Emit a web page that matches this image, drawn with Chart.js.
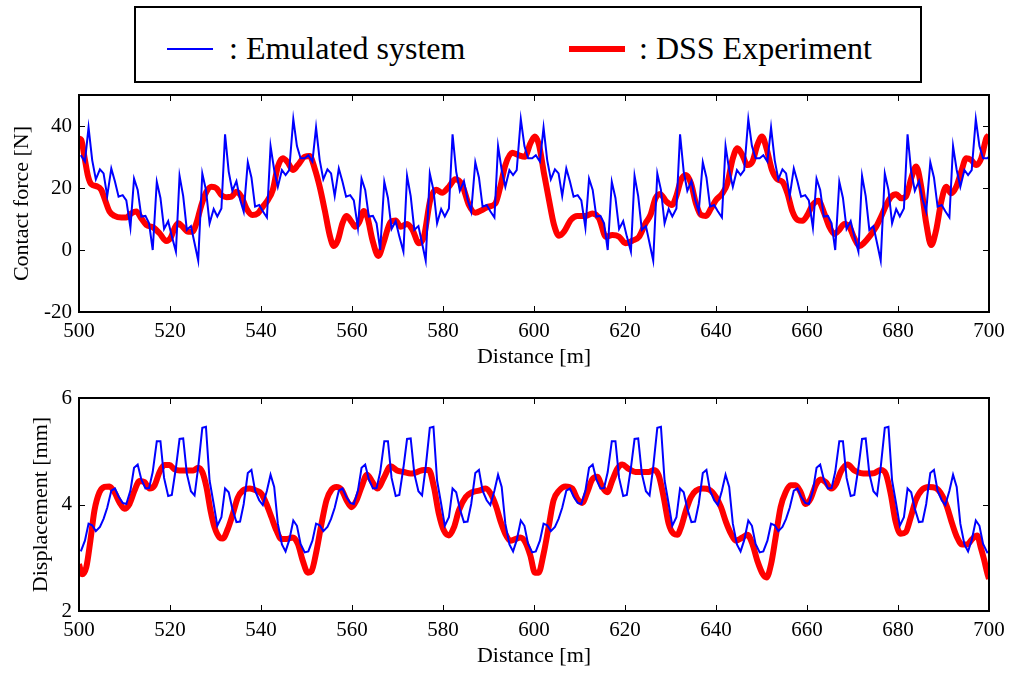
<!DOCTYPE html>
<html>
<head>
<meta charset="utf-8">
<script src="https://cdn.jsdelivr.net/npm/chart.js@4.4.1/dist/chart.umd.min.js"></script>
<style>
  body { margin: 0; background: #fff; width: 1013px; height: 673px; overflow: hidden; position: relative; font-family: "Liberation Serif", serif; }
  #legend { position: absolute; left: 134px; top: 6px; width: 784px; height: 73px; border: 2px solid #000; }
  .swatch { position: absolute; }
  .ltext { position: absolute; font-size: 32px; line-height: 32px; white-space: nowrap; color: #000; }
  canvas { position: absolute; left: 0; }
</style>
</head>
<body>
<div id="legend">
  <div class="swatch" style="left:31px;top:40px;width:46px;height:2px;background:#0000ff"></div>
  <div class="ltext" style="left:93px;top:24px">: Emulated system</div>
  <div class="swatch" style="left:433px;top:38px;width:56px;height:6px;background:#ff0000"></div>
  <div class="ltext" style="left:503px;top:24px">: DSS Experiment</div>
</div>
<canvas id="forceChart" width="1013" height="290" style="top:85px"></canvas>
<canvas id="dispChart" width="1013" height="288" style="top:385px"></canvas>
<script>
// axis ticks
const xTicks = [500, 520, 540, 560, 580, 600, 620, 640, 660, 680, 700];
const forceTicks = [-20, 0, 20, 40];
const dispTicks = [2, 4, 6];

// Emulated system: sample positions [m]
const blueDist = [
  500.4,501.3,502.1,502.9,503.7,504.6,505.4,506.2,507.1,507.9,508.7,509.6,
  510.4,511.3,512.1,512.9,513.7,514.6,515.4,516.2,517.1,517.9,518.7,519.6,
  520.4,521.3,522.1,522.9,523.7,524.6,525.4,526.2,527.1,527.9,528.7,529.6,
  530.4,531.3,532.1,532.9,533.7,534.6,535.4,536.2,537.1,537.9,538.7,539.6,
  540.4,541.3,542.1,542.9,543.7,544.6,545.4,546.2,547.1,547.9,548.7,549.6,
  550.4,551.3,552.1,552.9,553.7,554.6,555.4,556.2,557.1,557.9,558.7,559.6,
  560.4,561.3,562.1,562.9,563.7,564.6,565.4,566.2,567.1,567.9,568.7,569.6,
  570.4,571.3,572.1,572.9,573.7,574.6,575.4,576.2,577.1,577.9,578.7,579.6,
  580.4,581.3,582.1,582.9,583.7,584.6,585.4,586.2,587.1,587.9,588.7,589.6,
  590.4,591.3,592.1,592.9,593.7,594.6,595.4,596.2,597.1,597.9,598.7,599.6,
  600.4,601.3,602.1,602.9,603.7,604.6,605.4,606.2,607.1,607.9,608.7,609.6,
  610.4,611.3,612.1,612.9,613.7,614.6,615.4,616.2,617.1,617.9,618.7,619.6,
  620.4,621.3,622.1,622.9,623.7,624.6,625.4,626.2,627.1,627.9,628.7,629.6,
  630.4,631.3,632.1,632.9,633.7,634.6,635.4,636.2,637.1,637.9,638.7,639.6,
  640.4,641.3,642.1,642.9,643.7,644.6,645.4,646.2,647.1,647.9,648.7,649.6,
  650.4,651.3,652.1,652.9,653.7,654.6,655.4,656.2,657.1,657.9,658.7,659.6,
  660.4,661.3,662.1,662.9,663.7,664.6,665.4,666.2,667.1,667.9,668.7,669.6,
  670.4,671.3,672.1,672.9,673.7,674.6,675.4,676.2,677.1,677.9,678.7,679.6,
  680.4,681.3,682.1,682.9,683.7,684.6,685.4,686.2,687.1,687.9,688.7,689.6,
  690.4,691.3,692.1,692.9,693.7,694.6,695.4,696.2,697.1,697.9,698.7,699.6,
  700.4
];

// Emulated system: contact force [N]
const blueForce = [
  30.6,28.5,39.5,29,22.8,26,24.7,17.4,26.3,22.1,17.2,17.7,16,7.2,23,19.4,10.8,11,8.6,0,
  22,16.8,6.8,9.3,4.4,-0.5,23.9,17.4,6.5,7.7,2.2,-3.4,24.7,19.4,8.6,13.2,10.8,13.4,37.3,25.3,
  19.1,22.2,16.3,12.4,28.3,23.4,14,14.5,12.5,10.5,33.5,25.8,20.4,25.8,24.2,25.8,42.2,33.5,29.6,29.6,
  30.6,28.5,39.5,29,22.8,26,24.7,17.4,26.3,22.1,17.2,17.7,16,7.2,23,19.4,10.8,11,8.6,0,
  22,16.8,6.8,9.3,4.4,-0.5,23.9,17.4,6.5,7.7,2.2,-3.4,24.7,19.4,8.6,13.2,10.8,13.4,37.3,25.3,
  19.1,22.2,16.3,12.4,28.3,23.4,14,14.5,12.5,10.5,33.5,25.8,20.4,25.8,24.2,25.8,42.2,33.5,29.6,29.6,
  30.6,28.5,39.5,29,22.8,26,24.7,17.4,26.3,22.1,17.2,17.7,16,7.2,23,19.4,10.8,11,8.6,0,
  22,16.8,6.8,9.3,4.4,-0.5,23.9,17.4,6.5,7.7,2.2,-3.4,24.7,19.4,8.6,13.2,10.8,13.4,37.3,25.3,
  19.1,22.2,16.3,12.4,28.3,23.4,14,14.5,12.5,10.5,33.5,25.8,20.4,25.8,24.2,25.8,42.2,33.5,29.6,29.6,
  30.6,28.5,39.5,29,22.8,26,24.7,17.4,26.3,22.1,17.2,17.7,16,7.2,23,19.4,10.8,11,8.6,0,
  22,16.8,6.8,9.3,4.4,-0.5,23.9,17.4,6.5,7.7,2.2,-3.4,24.7,19.4,8.6,13.2,10.8,13.4,37.3,25.3,
  19.1,22.2,16.3,12.4,28.3,23.4,14,14.5,12.5,10.5,33.5,25.8,20.4,25.8,24.2,25.8,42.2,33.5,29.6,29.6,
  30.6
];

// Emulated system: displacement [mm]
const blueDisp = [
  3.12,3.32,3.64,3.61,3.5,3.58,3.73,3.94,4.26,4.3,4.15,4.03,4.01,4.26,4.69,4.75,4.47,4.3,4.31,4.61,
  5.19,5.19,4.5,4.16,4.18,4.69,5.23,5.24,4.58,4.25,4.17,4.7,5.44,5.46,4.45,4.01,3.6,3.76,4.3,4.23,
  3.92,3.67,3.68,4.01,4.59,4.65,4.26,4.08,3.99,4.26,4.56,4.33,3.64,3.25,3.12,3.33,3.7,3.6,3.26,3.1,
  3.12,3.32,3.64,3.61,3.5,3.58,3.73,3.94,4.26,4.3,4.15,4.03,4.01,4.26,4.69,4.75,4.47,4.3,4.31,4.61,
  5.19,5.19,4.5,4.16,4.18,4.69,5.23,5.24,4.58,4.25,4.17,4.7,5.44,5.46,4.45,4.01,3.6,3.76,4.3,4.23,
  3.92,3.67,3.68,4.01,4.59,4.65,4.26,4.08,3.99,4.26,4.56,4.33,3.64,3.25,3.12,3.33,3.7,3.6,3.26,3.1,
  3.12,3.32,3.64,3.61,3.5,3.58,3.73,3.94,4.26,4.3,4.15,4.03,4.01,4.26,4.69,4.75,4.47,4.3,4.31,4.61,
  5.19,5.19,4.5,4.16,4.18,4.69,5.23,5.24,4.58,4.25,4.17,4.7,5.44,5.46,4.45,4.01,3.6,3.76,4.3,4.23,
  3.92,3.67,3.68,4.01,4.59,4.65,4.26,4.08,3.99,4.26,4.56,4.33,3.64,3.25,3.12,3.33,3.7,3.6,3.26,3.1,
  3.12,3.32,3.64,3.61,3.5,3.58,3.73,3.94,4.26,4.3,4.15,4.03,4.01,4.26,4.69,4.75,4.47,4.3,4.31,4.61,
  5.19,5.19,4.5,4.16,4.18,4.69,5.23,5.24,4.58,4.25,4.17,4.7,5.44,5.46,4.45,4.01,3.6,3.76,4.3,4.23,
  3.92,3.67,3.68,4.01,4.59,4.65,4.26,4.08,3.99,4.26,4.56,4.33,3.64,3.25,3.12,3.33,3.7,3.6,3.26,3.1,
  3.12
];

// DSS Experiment: contact force
const redForceDist = [
  500,500.5,501.2,502,502.7,503.8,504.9,505.6,506.7,507.8,509.3,510.4,511.5,512.6,513.7,514.8,516.3,517.7,519.2,520.1,
  521,521.8,522.9,524,524.9,525.8,526.9,528,529.1,530.2,531.3,532.4,533.5,534.6,535.7,536.8,538.1,539.3,540.4,541.5,
  542.6,543.7,544.8,545.9,547,548.1,549.6,550.7,551.8,552.9,554,555.1,556,556.9,557.9,558.8,559.9,560.7,561.6,562.6,
  563.4,564.5,565.8,567,568.5,569.6,570.7,572.1,573.3,574.7,575.8,577.2,578.5,579.8,581.3,582.7,584.2,585.7,587.1,588.6,
  590,591.5,592.6,593.7,595.2,596.6,598,599.2,600.2,601.1,602.2,603.3,604.4,605.5,606.6,608.1,609.5,611.4,612.8,614.3,
  615.8,617.2,618.7,620.1,621.6,623.1,624.5,625.6,626.7,627.7,629.1,630.3,631.3,632.3,633.4,634.5,635.6,636.7,637.8,638.9,
  640,641.4,642.5,643.6,644.7,645.8,646.9,648,649.1,650.1,651.1,652.3,653.5,654.6,655.7,656.8,657.9,659,660.1,661.2,
  662.5,663.8,664.9,666,667.1,668.2,669.3,670.4,671.5,672.6,673.7,675.2,676.3,677.4,678.5,679.6,680.7,681.8,682.9,684,
  685.1,686.2,687.3,688.4,689.5,690.6,691.7,692.8,693.9,695,696.1,697.2,698.3,699.4,700
];
const redForce = [
  36,35.5,30,23.7,21.2,20.6,19.4,16.7,12.4,11,10.5,10.5,11.8,12.4,10.2,8.1,7.3,5.4,2.9,3.8,
  7,8.6,7.3,5.9,5.9,8.6,14.5,18.8,20.4,19.9,17.7,17,17.2,18.8,17.2,13.4,11.3,11.8,14,16.1,
  19.4,26.9,29.6,28.2,25.8,27.4,30.1,30.3,26.3,20.4,12.9,4.8,1.3,3.2,8.6,11,9.1,7.5,9,12.6,
  10.5,3.2,-1.9,2.7,9.1,9.5,7.5,8.4,6.5,2.2,4.3,16.1,19.4,18.5,20.4,22.8,21,14.5,12,12.9,
  14,15,20.4,27.4,31.4,30.6,30.1,34.4,36.6,33.9,24.7,16.1,8.1,4.6,5.9,9.7,11,11,11.8,10.2,
  4.3,4.8,4.3,2.2,3,4.3,8.6,11.3,16.7,18.1,15.6,14.5,17.5,22.6,24.2,21.5,15,11.3,11,13.4,
  16.1,18.3,21.5,29,32.8,30.6,27.4,28.5,33.9,36.6,32.8,25.8,22.8,22,18.3,12.4,9.7,9.4,11.3,14.5,
  15.9,11.8,7.5,5.2,6.5,8.4,7.5,3.8,1.3,2.4,4.3,7.5,10.8,14.5,17.2,18,16.7,17.4,23.1,26.9,
  20.4,8.6,1.6,6.5,15.6,20.4,18.3,20.4,25.3,29.6,29,27.4,29.6,36,37
];

// DSS Experiment: displacement
const redDispDist = [
  500,500.7,501.6,502.5,503.4,504.5,505.6,506.7,507.8,508.9,510,511.1,512.2,513.3,514.4,515.5,516.6,517.7,518.8,519.9,
  521,522.1,523.6,525.1,526.2,527.1,528,528.9,529.8,530.9,531.6,532.7,533.8,534.9,536,537.5,539,540.1,541.2,542.3,
  543.4,544.5,545.6,547,548.1,549.2,550.3,551.1,552.2,553.3,554.4,555.5,556.6,557.7,558.8,559.9,561,562.1,563.3,564.5,
  565.6,567,568.5,569.9,571.4,572.9,574.3,575.8,576.9,578,579.1,580.2,581.3,582.4,583.5,585,586.4,587.9,589.4,590.5,
  591.6,592.7,593.7,594.8,595.9,597,598.1,599.2,600.2,601,602.1,603.2,604.3,605.5,606.9,608.4,609.5,610.6,611.7,612.8,
  613.9,615,616.1,617.2,618.3,619.4,620.8,622.3,623.8,625.2,626.3,627.4,628.5,629.6,630.7,631.5,632.3,633.4,634.5,635.6,
  637.1,638.5,640,641.1,642.2,643.3,644.4,645.8,646.9,648,649.1,650.3,651.1,652.1,653.1,654.2,655.3,656.4,657.5,658.6,
  659.7,660.8,661.9,663,664.1,665.3,666.4,667.4,668.9,670.4,671.8,673.3,674.8,676.2,677.3,678.4,679.5,680.6,681.7,682.8,
  683.9,685.3,686.8,688.3,689.7,690.8,691.9,693,694.1,695.2,696.3,697.4,698.2,698.9,699.6,700
];
const redDisp = [
  2.88,2.69,2.82,3.32,3.89,4.23,4.33,4.34,4.23,4.04,3.92,4.01,4.26,4.44,4.42,4.3,4.36,4.61,4.74,4.74,
  4.66,4.64,4.64,4.64,4.69,4.61,4.33,3.89,3.57,3.38,3.36,3.54,3.82,4.13,4.26,4.3,4.26,4.2,4.01,3.76,
  3.51,3.35,3.35,3.38,3.26,2.94,2.72,2.75,3.13,3.64,4.08,4.28,4.33,4.28,4.08,3.95,4.08,4.33,4.56,4.42,
  4.3,4.5,4.72,4.64,4.61,4.58,4.61,4.65,4.65,4.33,3.82,3.51,3.42,3.57,3.89,4.14,4.23,4.26,4.3,4.2,
  3.98,3.67,3.45,3.32,3.35,3.38,3.29,3.04,2.72,2.72,3.07,3.57,4.08,4.26,4.34,4.3,4.11,4.03,4.23,4.47,
  4.52,4.33,4.23,4.45,4.67,4.75,4.67,4.61,4.61,4.61,4.65,4.55,4.14,3.64,3.45,3.43,3.57,3.89,4.14,4.26,
  4.3,4.28,4.14,3.95,3.67,3.45,3.32,3.38,3.43,3.26,2.94,2.69,2.63,2.88,3.38,3.95,4.23,4.36,4.36,4.23,
  4.01,4.11,4.36,4.47,4.42,4.3,4.39,4.61,4.75,4.64,4.59,4.58,4.59,4.65,4.58,4.2,3.67,3.45,3.48,3.76,
  4.08,4.28,4.33,4.31,4.17,3.95,3.64,3.38,3.25,3.25,3.35,3.42,3.19,2.97,2.72,2.6
];

const FONT = 'Liberation Serif';

// MATLAB-like box with inward ticks on all four sides
const boxTicks = {
  id: 'boxTicks',
  afterDatasetsDraw(chart) {
    const { ctx, chartArea: a, scales: { x, y } } = chart;
    const len = 6;
    ctx.save();
    ctx.strokeStyle = '#000';
    ctx.lineWidth = 1;
    ctx.beginPath();
    x.ticks.forEach(t => {
      const px = Math.round(x.getPixelForValue(t.value)) + 0.5;
      ctx.moveTo(px, a.bottom); ctx.lineTo(px, a.bottom - len);
      ctx.moveTo(px, a.top); ctx.lineTo(px, a.top + len);
    });
    y.ticks.forEach(t => {
      const py = Math.round(y.getPixelForValue(t.value)) + 0.5;
      ctx.moveTo(a.left, py); ctx.lineTo(a.left + len, py);
      ctx.moveTo(a.right, py); ctx.lineTo(a.right - len, py);
    });
    ctx.stroke();
    ctx.lineWidth = 2;
    ctx.strokeRect(a.left, a.top, a.right - a.left, a.bottom - a.top);
    ctx.restore();
  }
};

function toPoints(xs, ys) {
  return xs.map((d, i) => ({ x: d, y: ys[i] }));
}

function makeChart(id, blue, redX, redY, yMin, yMax, yTicks, yTitle, opt) {
  return new Chart(document.getElementById(id), {
    type: 'line',
    data: {
      datasets: [
        {
          label: 'Emulated system',
          data: toPoints(blueDist, blue),
          borderColor: '#0000ff',
          borderWidth: 2,
          pointRadius: 0,
          tension: 0,
          clip: 0
        },
        {
          label: 'DSS Experiment',
          data: toPoints(redX, redY),
          borderColor: '#ff0000',
          borderWidth: 6,
          pointRadius: 0,
          cubicInterpolationMode: 'monotone',
          borderJoinStyle: 'round',
          clip: 0
        }
      ]
    },
    options: {
      responsive: false,
      animation: false,
      events: [],
      layout: { padding: { top: opt.padTop, right: 24, left: 0, bottom: 0 } },
      plugins: { legend: { display: false }, tooltip: { enabled: false } },
      scales: {
        x: {
          type: 'linear',
          min: 500,
          max: 700,
          afterBuildTicks: s => { s.ticks = xTicks.map(v => ({ value: v })); },
          afterFit: s => { s.height = opt.xAxisH; s.paddingLeft = 0; s.paddingRight = 0; },
          grid: { display: false, drawTicks: false },
          border: { display: false },
          ticks: { color: '#000', font: { family: FONT, size: 21 }, padding: 7, maxRotation: 0, autoSkip: false },
          title: { display: true, text: 'Distance [m]', color: '#000', font: { family: FONT, size: 22 }, padding: { top: 0, bottom: opt.xTitlePad } }
        },
        y: {
          min: yMin,
          max: yMax,
          afterBuildTicks: s => { s.ticks = yTicks.map(v => ({ value: v })); },
          // fixed axis width; drop the label overhang padding so the plot box lands where we want it
          afterFit: s => { s.width = 79; s.paddingTop = 0; s.paddingBottom = 0; },
          grid: { display: false, drawTicks: false },
          border: { display: false },
          ticks: { color: '#000', font: { family: FONT, size: 21 }, padding: 7 },
          title: { display: true, text: yTitle, color: '#000', font: { family: FONT, size: 22 }, padding: { top: opt.yTitlePad, bottom: 0 } }
        }
      }
    },
    plugins: [boxTicks]
  });
}

makeChart('forceChart', blueForce, redForceDist, redForce, -20, 50, forceTicks, 'Contact force [N]',
  { padTop: 10, xAxisH: 63, xTitlePad: 5, yTitlePad: 9 });
makeChart('dispChart', blueDisp, redDispDist, redDisp, 2, 6, dispTicks, 'Displacement [mm]',
  { padTop: 13, xAxisH: 62, xTitlePad: 4, yTitlePad: 28 });
</script>
</body>
</html>
